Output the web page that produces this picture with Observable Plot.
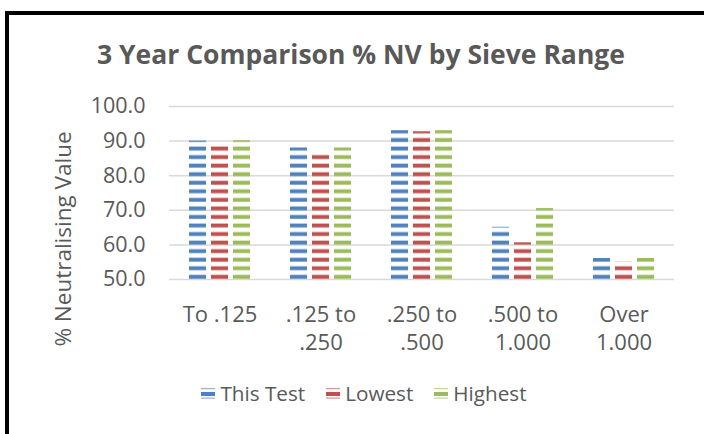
<!DOCTYPE html>
<html>
<head>
<meta charset="utf-8">
<script src="https://cdn.jsdelivr.net/npm/d3@7"></script>
<script src="https://cdn.jsdelivr.net/npm/@observablehq/plot@0.6"></script>
<style>
  html, body { margin: 0; padding: 0; background: #fff; }
  body { width: 704px; height: 434px; overflow: hidden; font-family: "Open Sans", sans-serif; }
  #wrap { position: relative; width: 704px; height: 434px; }
  #frame { position: absolute; left: 5px; top: 11px; width: 710px; height: 440px; border-left: 4px solid #000; border-top: 4px solid #000; box-sizing: border-box; }
  #title { position: absolute; left: 0; width: 722px; top: 36px; line-height: 36px; text-align: center; font-weight: bold; font-size: 26.5px; color: #595959; white-space: nowrap; }
  #ylab { position: absolute; left: 62px; top: 239px; transform: translate(-50%, -50%) rotate(-90deg); white-space: nowrap; font-size: 22.5px; color: #595959; }
  #chart { position: absolute; left: 0; top: 0; }
  #legend { position: absolute; left: 0; width: 728px; top: 379px; display: flex; justify-content: center; gap: 21px; font-size: 20.7px; color: #595959; }
  #legend .item { display: flex; align-items: center; gap: 5px; }
</style>
</head>
<body>
<div id="wrap">
  <div id="frame"></div>
  <div id="title">3 Year Comparison % NV by Sieve Range</div>
  <div id="ylab">% Neutralising Value</div>
  <div id="chart"></div>
  <div id="legend"></div>
</div>
<script>
// ---- data ----
const categories = ["To .125", ".125 to\n.250", ".250 to\n.500", ".500 to\n1.000", "Over\n1.000"];
const seriesNames = ["This Test", "Lowest", "Highest"];
const thisTest = [90.0, 88.0, 93.0, 65.1, 56.1];
const lowest   = [89.2, 86.9, 92.7, 60.6, 55.0];
const highest  = [90.1, 88.0, 93.0, 70.5, 56.1];
const yTicks = [50, 60, 70, 80, 90, 100];
const seriesColors = ["#4F81BD", "#C0504D", "#9BBB59"];
const patternIds = ["pat-blue", "pat-red", "pat-green"];

const valuesBySeries = [thisTest, lowest, highest];
const data = [];
categories.forEach((c, i) => {
  seriesNames.forEach((s, j) => {
    data.push({cat: c, series: s, value: valuesBySeries[j][i]});
  });
});

const W = 704, H = 434;
const chart = Plot.plot({
  width: W,
  height: H,
  marginLeft: 168,
  marginRight: 29,
  marginTop: 106,
  marginBottom: 155,
  style: {fontFamily: "'Open Sans', sans-serif", fontSize: "21px", color: "#595959", background: "transparent"},
  fx: {domain: categories, paddingInner: 0, paddingOuter: 0, label: null},
  x: {domain: seriesNames, paddingInner: 0.217, paddingOuter: 0.81, axis: null},
  y: {domain: [50, 100], ticks: yTicks, label: null},
  color: {domain: seriesNames, range: patternIds.map(id => `url(#${id})`)},
  marks: [
    Plot.gridY(yTicks, {stroke: "#d9d9d9", strokeOpacity: 1, strokeWidth: 1.5}),
    Plot.axisY(yTicks, {tickSize: 0, tickPadding: 24, tickFormat: d => d.toFixed(1), fontSize: 21.5, fill: "#595959", label: null}),
    Plot.axisFx({anchor: "bottom", tickSize: 0, tickPadding: 23, fontSize: 22, lineHeight: 1.27, fill: "#595959", label: null}),
    Plot.barY(data, {fx: "cat", x: "series", y1: 50, y2: "value", fill: "series"})
  ]
});
document.getElementById("chart").appendChild(chart);

// stripe patterns aligned to the baseline
const yScale = chart.scale("y");
const base = yScale.apply(50);
const period = 8.55;
const ns = "http://www.w3.org/2000/svg";
const defs = document.createElementNS(ns, "defs");
function makePattern(id, color, y0) {
  const p = document.createElementNS(ns, "pattern");
  p.setAttribute("id", id);
  p.setAttribute("patternUnits", "userSpaceOnUse");
  p.setAttribute("x", 0);
  p.setAttribute("y", y0);
  p.setAttribute("width", 40);
  p.setAttribute("height", period);
  const halo = document.createElementNS(ns, "rect");
  halo.setAttribute("x", 0); halo.setAttribute("y", period - 4.6);
  halo.setAttribute("width", 40); halo.setAttribute("height", 4.6);
  halo.setAttribute("fill", color); halo.setAttribute("fill-opacity", 0.35);
  const r = document.createElementNS(ns, "rect");
  r.setAttribute("x", 0); r.setAttribute("y", period - 3.9);
  r.setAttribute("width", 40); r.setAttribute("height", 3.5);
  r.setAttribute("fill", color);
  p.appendChild(halo); p.appendChild(r);
  return p;
}
patternIds.forEach((id, i) => defs.appendChild(makePattern(id, seriesColors[i], base % period)));
chart.insertBefore(defs, chart.firstChild);

// legend
const legend = document.getElementById("legend");
seriesNames.forEach((s, i) => {
  const item = document.createElement("div");
  item.className = "item";
  const sw = document.createElementNS(ns, "svg");
  sw.setAttribute("width", 14); sw.setAttribute("height", 16);
  const c = seriesColors[i];
  [[3, 1.2, 0.6], [7, 4, 1], [12.5, 1.2, 0.6]].forEach(([y, h, o]) => {
    const r = document.createElementNS(ns, "rect");
    r.setAttribute("x", 0); r.setAttribute("y", y);
    r.setAttribute("width", 14); r.setAttribute("height", h);
    r.setAttribute("fill", c); r.setAttribute("fill-opacity", o);
    sw.appendChild(r);
  });
  item.appendChild(sw);
  const t = document.createElement("span");
  t.textContent = s;
  item.appendChild(t);
  legend.appendChild(item);
});
</script>
</body>
</html>
